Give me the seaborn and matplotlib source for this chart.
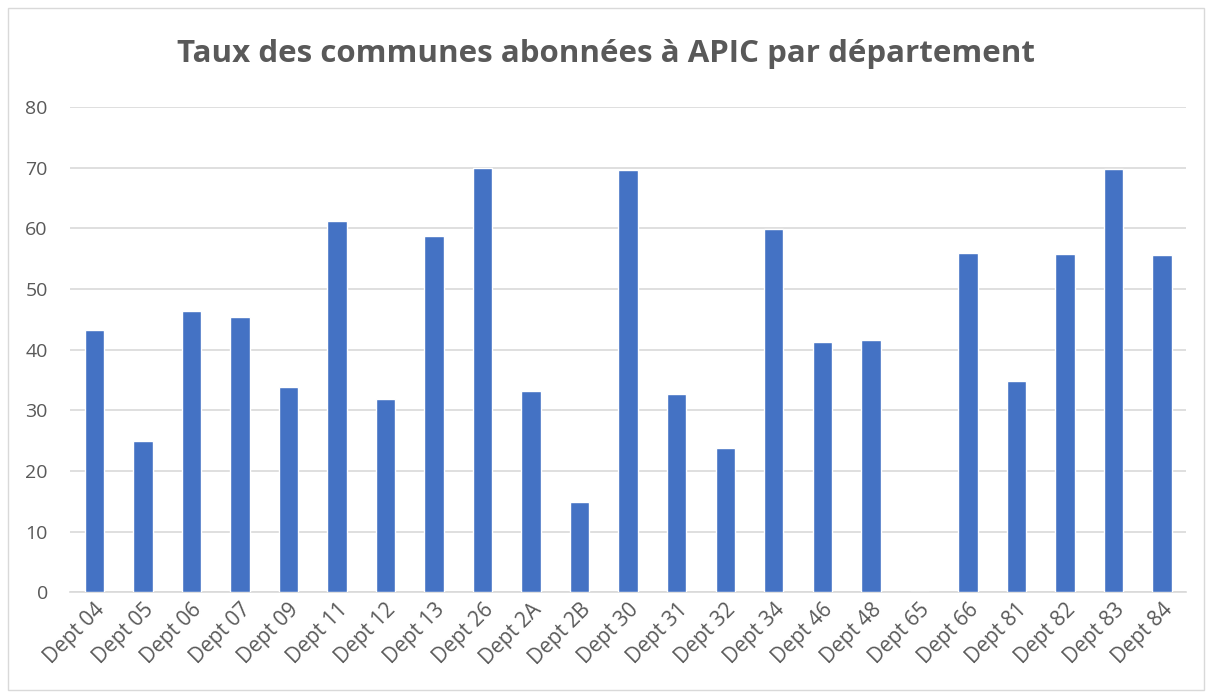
import matplotlib
matplotlib.use("Agg")
import matplotlib.pyplot as plt
import seaborn as sns
import pandas as pd
from matplotlib.patches import Rectangle

departements = ["Dept 04", "Dept 05", "Dept 06", "Dept 07", "Dept 09", "Dept 11", "Dept 12",
                "Dept 13", "Dept 26", "Dept 2A", "Dept 2B", "Dept 30", "Dept 31", "Dept 32",
                "Dept 34", "Dept 46", "Dept 48", "Dept 65", "Dept 66", "Dept 81", "Dept 82",
                "Dept 83", "Dept 84"]
taux = [43.2, 25.0, 46.3, 45.3, 33.8, 61.2, 31.8, 58.7, 70.0, 33.2, 14.9, 69.6, 32.7, 23.8,
        59.9, 41.3, 41.6, 0.0, 56.0, 34.8, 55.7, 69.8, 55.6]
y_ticks = [0, 10, 20, 30, 40, 50, 60, 70, 80]
title = "Taux des communes abonnées à APIC par département"

sns.set_theme(style="white")
plt.rcParams['font.family'] = ['Open Sans', 'DejaVu Sans']

df = pd.DataFrame({"dept": departements, "taux": taux})

fig = plt.figure(figsize=(12.12, 6.95), dpi=100)
ax = fig.add_axes([0.0578, 0.148, 0.921, 0.698])

sns.barplot(data=df, x="dept", y="taux", color="#4472C4", width=0.4, saturation=1, ax=ax, zorder=3)

ax.set_xlim(-0.5, len(departements) - 0.5)
ax.set_ylim(0, 80)
ax.set_yticks(y_ticks)
ax.yaxis.grid(True, color="#d9d9d9", linewidth=1.2, zorder=0)
ax.set_axisbelow(True)
for s in ["top", "right", "left"]:
    ax.spines[s].set_visible(False)
ax.spines["bottom"].set_color("#d9d9d9")
ax.spines["bottom"].set_linewidth(1.2)
ax.set_xlabel("")
ax.set_ylabel("")
ax.tick_params(axis="y", length=0, pad=16, labelsize=14, labelcolor="#595959")
ax.tick_params(axis="x", length=0, pad=5, labelsize=15, labelcolor="#595959")
for lab in ax.get_xticklabels():
    lab.set_rotation(45)
    lab.set_ha("right")
    lab.set_rotation_mode("anchor")

fig.text(0.5, 0.923, title, ha="center", va="center", fontsize=22.5, fontweight="bold", color="#595959")

fig.patches.append(Rectangle((0.007, 0.007), 0.986, 0.982, transform=fig.transFigure,
                             fill=False, edgecolor="#d9d9d9", linewidth=1))

fig.savefig("out.png", dpi=100)
